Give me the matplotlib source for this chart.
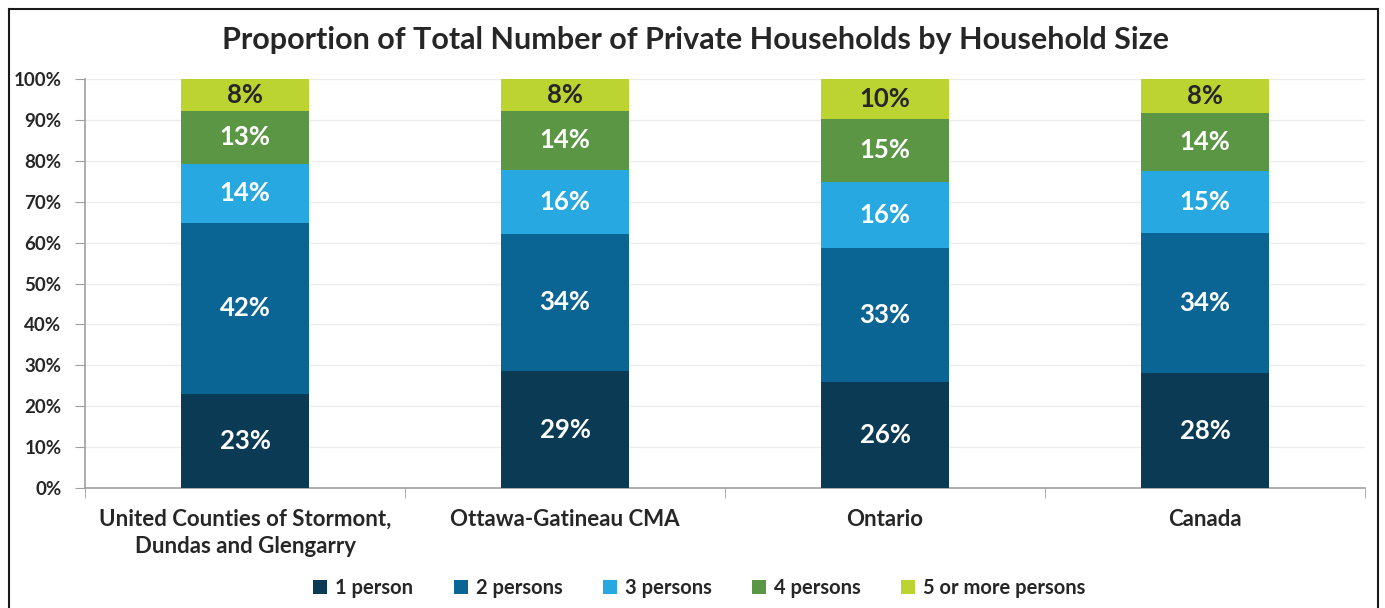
import matplotlib.pyplot as plt
import numpy as np
from matplotlib.lines import Line2D

plt.rcParams.update({
    "font.family": ["Lato", "DejaVu Sans"],
    "font.weight": "bold",
})

regions = ["United Counties of Stormont,\nDundas and Glengarry", "Ottawa-Gatineau CMA", "Ontario", "Canada"]
sizes = ["1 person", "2 persons", "3 persons", "4 persons", "5 or more persons"]

one_person = [23.1, 28.6, 25.9, 28.1]
two_persons = [41.8, 33.6, 32.7, 34.3]
three_persons = [14.4, 15.6, 16.3, 15.2]
four_persons = [12.9, 14.4, 15.3, 14.0]
five_plus = [7.8, 7.8, 9.8, 8.4]

series = [one_person, two_persons, three_persons, four_persons, five_plus]
colors = ["#0a3a54", "#0b6594", "#27a8e0", "#5b9645", "#bcd432"]
label_colors = ["white", "white", "white", "white", "#262626"]

fig = plt.figure(figsize=(13.85, 6.08), dpi=100)
ax = fig.add_axes([0.0614, 0.1974, 0.9242, 0.6726])

x = np.arange(len(regions))
bottom = np.zeros(len(regions))
for vals, name, col, lc in zip(series, sizes, colors, label_colors):
    vals = np.array(vals)
    ax.bar(x, vals, 0.4, bottom=bottom, color=col, label=name, zorder=3)
    for xi, b, v in zip(x, bottom, vals):
        ax.text(xi, b + v / 2, f"{round(v)}%", ha="center", va="center",
                color=lc, fontsize=18.5, fontweight="bold", zorder=4)
    bottom += vals

ax.set_xlim(-0.5, 3.5)
ax.set_ylim(0, 100)
ax.set_yticks(np.arange(0, 101, 10))
ax.set_yticklabels([f"{v}%" for v in range(0, 101, 10)], fontsize=13.5, color="#262626")
ax.grid(axis="y", color="#ececec", linewidth=1, zorder=0)

ax.set_xticks(x)
ax.set_xticklabels(regions, fontsize=16, color="#262626", linespacing=1.35)
ax.set_xticks(np.arange(-0.5, 4, 1), minor=True)
ax.tick_params(axis="x", which="major", length=0, pad=15)
ax.tick_params(axis="x", which="minor", length=7, color="#a0a0a0", direction="out")
ax.tick_params(axis="y", length=7, color="#a0a0a0", pad=10)

for s in ["top", "right"]:
    ax.spines[s].set_visible(False)
for s in ["left", "bottom"]:
    ax.spines[s].set_color("#a0a0a0")
    ax.spines[s].set_linewidth(1.2)

fig.text(0.502, 0.934, "Proportion of Total Number of Private Households by Household Size",
         ha="center", va="center", fontsize=22, fontweight="bold", color="#262626")

ax.legend(loc="center", bbox_to_anchor=(0.48, -0.245), ncol=5, frameon=False,
          fontsize=14.5, handlelength=0.7, handleheight=0.7, handletextpad=0.4,
          columnspacing=2.0, labelcolor="#262626")

# outer frame
for xs, ys in [([0.0065, 0.0065], [0.0, 0.985]), ([0.0065, 0.995], [0.985, 0.985]),
               ([0.995, 0.995], [0.0, 0.985])]:
    fig.add_artist(Line2D(xs, ys, color="#1a1a1a", linewidth=1.5, transform=fig.transFigure))

fig.savefig("out.png", dpi=100)
